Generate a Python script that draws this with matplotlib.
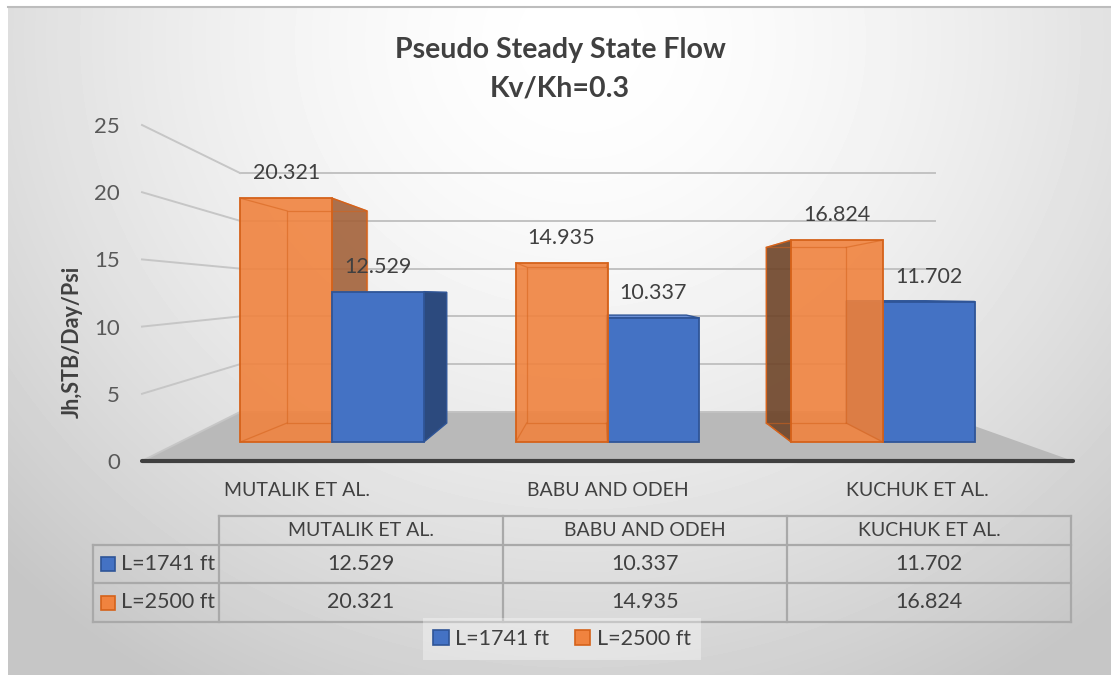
import matplotlib.pyplot as plt
from matplotlib.patches import Polygon, Rectangle, Patch
from matplotlib.colors import to_rgba
import numpy as np

plt.rcParams['font.family'] = ['Lato', 'DejaVu Sans']

# datos
categories = ['MUTALIK ET AL.', 'BABU AND ODEH', 'KUCHUK ET AL.']
series_names = ['L=1741 ft', 'L=2500 ft']
l1741 = [12.529, 10.337, 11.702]
l2500 = [20.321, 14.935, 16.824]
y_ticks = [0, 5, 10, 15, 20, 25]

BLUE, BLUE_EDGE, BLUE_SIDE, BLUE_TOP = '#4472C4', '#2F5597', '#2C4A7E', '#6A8FD6'
ORANGE, ORANGE_EDGE = '#F0833F', '#D5621A'
ORANGE_RSIDE, ORANGE_LSIDE = '#A3623A', '#6E4428'
TXT = '#404040'

W, H = 1111, 675
fig = plt.figure(figsize=(W / 100, H / 100), dpi=100, facecolor='white')

# ---- fondo en pixeles (degradado, paredes, suelo, tabla) ----
bg = fig.add_axes([0, 0, 1, 1])
yy, xx = np.mgrid[7:H, 8:W]
d = np.sqrt(((xx - 580) / 800) ** 2 + ((yy - 40) / 750) ** 2)
shade = 1 - np.clip(d, 0, 1) ** 1.6 * (1 - 198 / 255)
bg.imshow(shade, cmap='gray', vmin=0, vmax=1, extent=(8, W, H, 7),
          aspect='auto', interpolation='bilinear', zorder=0)
bg.set_xlim(0, W)
bg.set_ylim(H, 0)
bg.axis('off')
bg.plot([8, W], [7, 7], color='#bdbdbd', lw=1.5, zorder=1)


def front_y(v):
    return 461 - v * 13.44


def back_y(v):
    return 412 - v * 9.56


bg.add_patch(Polygon([(142, 461), (1073, 461), (935, 412), (240, 412)],
                     closed=True, fc='#b9b9b9', ec='none', zorder=1))
for v in y_ticks:
    bg.plot([240, 935], [back_y(v)] * 2, color='#c2c2c2', lw=1.4, zorder=2)
    bg.plot([142, 240], [front_y(v), back_y(v)], color='#c6c6c6', lw=1.4, zorder=2)
bg.plot([142, 1073], [461, 461], color='#404040', lw=3, solid_capstyle='round', zorder=3)

# tabla de datos
tab_x = [93, 219, 503, 787, 1071]
tab_y = [516, 545, 583, 622]
line_kw = dict(color='#a9a9a9', lw=1.6, zorder=3)
bg.plot([tab_x[1], tab_x[-1]], [tab_y[0]] * 2, **line_kw)
for y in tab_y[1:]:
    bg.plot([tab_x[0], tab_x[-1]], [y, y], **line_kw)
bg.plot([tab_x[0]] * 2, [tab_y[1], tab_y[-1]], **line_kw)
for x in tab_x[1:]:
    bg.plot([x, x], [tab_y[0], tab_y[-1]], **line_kw)

for i, cat in enumerate(categories):
    cx = (tab_x[i + 1] + tab_x[i + 2]) / 2
    bg.text(cx, (tab_y[0] + tab_y[1]) / 2, cat, ha='center', va='center',
            fontsize=14, color=TXT, zorder=4)
    for r, vals in enumerate([l1741, l2500]):
        bg.text(cx, (tab_y[r + 1] + tab_y[r + 2]) / 2, f'{vals[i]:.3f}',
                ha='center', va='center', fontsize=15.5, color=TXT, zorder=4)

for r, (name, fc, ec) in enumerate(zip(series_names, [BLUE, ORANGE], [BLUE_EDGE, ORANGE_EDGE])):
    cy = (tab_y[r + 1] + tab_y[r + 2]) / 2
    bg.add_patch(Rectangle((101, cy - 7), 14, 14, fc=fc, ec=ec, lw=1.2, zorder=4))
    bg.text(121, cy, name, ha='left', va='center', fontsize=15.5, color=TXT, zorder=4)

# ---- ejes de las barras (pseudo 3D) ----
ax = fig.add_axes([142 / W, 1 - 461 / H, 931 / W, 336 / H])
ax.set_xlim(-0.69, 2.69)
ax.set_ylim(-19 / 12, 317 / 12)
ax.axis('off')

BAR_W = 1 / 3
VP_X, VP_V, DEPTH = 0.973, 12.17, 0.87


def to_back(x, v):
    return VP_X + (x - VP_X) * DEPTH, VP_V + (v - VP_V) * DEPTH


def draw_box(x0, h, face, edge, rside, lside, top, alpha, z, wire):
    x1 = x0 + BAR_W
    bx0, bv0 = to_back(x0, 0)
    bx1, bh = to_back(x1, h)
    if x1 < VP_X:
        ax.add_patch(Polygon([(x1, 0), (x1, h), (bx1, bh), (bx1, bv0)],
                             fc=to_rgba(rside, alpha), ec=edge, lw=1, zorder=z))
    if x0 > VP_X:
        ax.add_patch(Polygon([(x0, 0), (x0, h), (bx0, bh), (bx0, bv0)],
                             fc=to_rgba(lside, alpha), ec=edge, lw=1, zorder=z))
    if h < VP_V:
        ax.add_patch(Polygon([(x0, h), (x1, h), (bx1, bh), (bx0, bh)],
                             fc=to_rgba(top, alpha), ec=edge, lw=1, zorder=z))
    ax.bar(x0, h, width=BAR_W, align='edge', color=to_rgba(face, alpha),
           edgecolor=edge, lw=1.3, zorder=z + 1)
    if wire:
        wk = dict(color=edge, lw=0.9, alpha=0.55, zorder=z + 2)
        ax.plot([bx0, bx1, bx1, bx0, bx0], [bv0, bv0, bh, bh, bv0], **wk)
        for fx, fv, gx, gv in [(x0, 0, bx0, bv0), (x1, 0, bx1, bv0),
                               (x0, h, bx0, bh), (x1, h, bx1, bh)]:
            ax.plot([fx, gx], [fv, gv], **wk)


z = 2
for i in range(len(categories)):
    bars = [
        (i - BAR_W, l2500[i], ORANGE, ORANGE_EDGE, ORANGE_RSIDE, ORANGE_LSIDE, ORANGE, 0.9, True),
        (i, l1741[i], BLUE, BLUE_EDGE, BLUE_SIDE, BLUE_SIDE, BLUE_TOP, 1.0, False),
    ]
    # primero la barra mas lejana al punto de fuga
    bars.sort(key=lambda b: -abs(b[0] + BAR_W / 2 - VP_X))
    for b in bars:
        draw_box(*b[:8], z, b[8])
        z += 4
    for x0, v in [(i - BAR_W, l2500[i]), (i, l1741[i])]:
        ax.annotate(f'{v:.3f}', (x0 + BAR_W / 2, v), xytext=(0, 18),
                    textcoords='offset points', ha='center', va='center',
                    fontsize=15.5, color=TXT, zorder=50)

# ---- ejes para etiquetas (plano frontal) ----
tax = fig.add_axes([142 / W, 1 - 461 / H, 931 / W, 336 / H])
tax.patch.set_visible(False)
for s in tax.spines.values():
    s.set_visible(False)
tax.set_ylim(0, 25)
tax.set_yticks(y_ticks)
tax.set_xlim(-0.5, 2.5)
tax.set_xticks(range(len(categories)))
tax.set_xticklabels(categories)
tax.tick_params(axis='y', length=0, pad=16, labelsize=16, labelcolor='#595959')
tax.tick_params(axis='x', length=0, pad=15, labelsize=14, labelcolor=TXT)

fig.text(72 / W, 1 - 342 / H, 'Jh,STB/Day/Psi', rotation=90, ha='center', va='center',
         fontsize=15.5, fontweight='bold', color=TXT)

fig.text(560 / W, 1 - 58 / H, 'Pseudo Steady State Flow', ha='center', va='baseline',
         fontsize=20.5, fontweight='bold', color=TXT)
fig.text(560 / W, 1 - 97 / H, 'Kv/Kh=0.3', ha='center', va='baseline',
         fontsize=20.5, fontweight='bold', color=TXT)

handles = [Patch(fc=BLUE, ec=BLUE_EDGE, lw=1.2), Patch(fc=ORANGE, ec=ORANGE_EDGE, lw=1.2)]
fig.legend(handles, series_names, loc='center', bbox_to_anchor=(562 / W, 1 - 639 / H),
           ncol=2, frameon=True, facecolor='white', framealpha=0.35, edgecolor='none',
           fancybox=False, fontsize=15.5, handlelength=0.7, handleheight=0.7,
           handletextpad=0.3, columnspacing=1.2, borderpad=0.5, labelcolor=TXT)

fig.savefig('out.png', dpi=100, facecolor=fig.get_facecolor())
